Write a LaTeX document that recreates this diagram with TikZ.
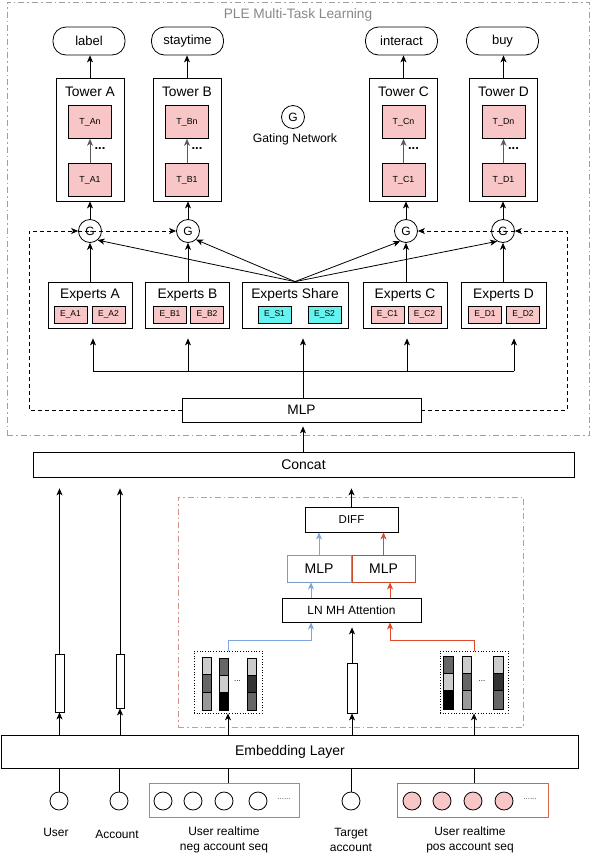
\documentclass[tikz,border=0pt]{standalone}
\usepackage{fontspec}
\setmainfont{Liberation Sans}
\usetikzlibrary{arrows.meta}
\definecolor{pinkf}{HTML}{F8C6C6}
\definecolor{cyanf}{HTML}{66F2EE}
\definecolor{blueE}{HTML}{7A9CC0}
\definecolor{redE}{HTML}{CC4A2A}
\definecolor{blueA}{HTML}{7EA6E0}
\definecolor{redA}{HTML}{E0492A}
\definecolor{redbox}{HTML}{D4948A}
\definecolor{negB}{HTML}{6F9AC0}
\definecolor{posB}{HTML}{D9664A}
\definecolor{outerG}{HTML}{A0A0A0}
\newcommand\fsz[1]{\fontsize{#1}{#1}\selectfont}
\tikzset{
  box/.style={draw, line width=0.8pt, inner sep=0pt, align=center},
  arr/.style={-{Stealth[length=7pt,width=6pt,inset=2pt]}, line width=0.8pt},
  pill/.style={draw, line width=0.8pt, rounded corners=13pt, minimum width=72, minimum height=28, inner sep=0pt, font=\fsz{13}},
  tower/.style={box, minimum width=68, minimum height=123},
  tbox/.style={box, fill=pinkf, line width=0.6pt, minimum width=43, minimum height=33, font=\fsz{8.8}},
  gc/.style={circle, draw, line width=0.8pt, minimum size=23, inner sep=0pt, font=\fsz{12}},
  expbox/.style={box, minimum width=84, minimum height=46},
  ebox/.style={box, fill=pinkf, line width=0.6pt, minimum width=33, minimum height=17, font=\fsz{8.5}},
  sbox/.style={ebox, fill=cyanf},
  ttl/.style={font=\fsz{13.8}, inner sep=0pt},
  dsh/.style={dash pattern=on 4pt off 3pt},
  bar/.style={box},
  inc/.style={circle, draw, line width=0.8pt, minimum size=18, inner sep=0pt},
  lbl/.style={font=\fontsize{12}{15}\selectfont, align=center, inner sep=0pt},
}
\begin{document}
\begin{tikzpicture}[x=1pt,y=-1pt]
\useasboundingbox (0,0) rectangle (590,860);

% outer PLE box
\node[draw=outerG, dash pattern=on 6pt off 3pt on 1.5pt off 3pt, line width=0.7pt, minimum width=582, minimum height=433, inner sep=0pt] (ple) at (298,218.5) {};
\node[font=\fsz{13.7}, text=outerG!85!black, inner sep=0pt] (pletitle) at (298,15) {PLE Multi-Task Learning};

% output pills
\node[pill] (lA) at (89,41) {label};
\node[pill] (lB) at (187.5,41) {staytime};
\node[pill] (lC) at (401.5,41) {interact};
\node[pill] (lD) at (502.5,41) {buy};

% towers
\foreach \n/\x in {A/90, B/187, C/403.5, D/503.5}{
  \node[tower] (T\n) at (\x,139.5) {};
  \node[ttl] (T\n title) at (\x,92) {Tower \n};
  \node[tbox] (T\n n) at (\x,122) {T\_\n n};
  \node[tbox] (T\n 1) at (\x,180) {T\_\n 1};
  \draw[arr, gray!70!black] (T\n 1.north) -- (T\n n.south);
  \node[font=\bfseries\fsz{13}, inner sep=0pt] (T\n dots) at (\x+10,149) {...};
}
\draw[arr] (TA.north) -- (TA.north |- lA.south);
\draw[arr] (TB.north) -- (TB.north |- lB.south);
\draw[arr] (TC.north) -- (TC.north |- lC.south);
\draw[arr] (TD.north) -- (TD.north |- lD.south);

% gating legend
\node[gc] (Gleg) at (293,117) {G};
\node[font=\fsz{12.2}, inner sep=0pt] (Glegtxt) at (295,139) {Gating Network};

% gates
\node[gc] (GA) at (90,231) {G};
\node[gc] (GB) at (188,231) {G};
\node[gc] (GC) at (406,231) {G};
\node[gc] (GD) at (503,231) {G};
\draw[arr] (GA.north) -- (GA.north |- TA.south);
\draw[arr] (GB.north) -- (GB.north |- TB.south);
\draw[arr] (GC.north) -- (GC.north |- TC.south);
\draw[arr] (GD.north) -- (GD.north |- TD.south);

% experts
\node[expbox] (EA) at (90,305) {};
\node[ttl] (EAt) at (90,295) {Experts A};
\node[ebox] (EA1) at (70.5,314.5) {E\_A1};
\node[ebox] (EA2) at (108.5,314.5) {E\_A2};
\node[expbox] (EB) at (187.5,305) {};
\node[ttl] (EBt) at (187.5,295) {Experts B};
\node[ebox] (EB1) at (170,314.5) {E\_B1};
\node[ebox] (EB2) at (207,314.5) {E\_B2};
\node[expbox, minimum width=106] (ES) at (295,305) {};
\node[ttl] (ESt) at (295,295) {Experts Share};
\node[sbox] (ES1) at (274.5,314.5) {E\_S1};
\node[sbox] (ES2) at (324.5,314.5) {E\_S2};
\node[expbox] (EC) at (405,305) {};
\node[ttl] (ECt) at (405,295) {Experts C};
\node[ebox] (EC1) at (387.5,314.5) {E\_C1};
\node[ebox] (EC2) at (424.5,314.5) {E\_C2};
\node[expbox, minimum width=85] (ED) at (503.5,305) {};
\node[ttl] (EDt) at (503.5,295) {Experts D};
\node[ebox] (ED1) at (485,314.5) {E\_D1};
\node[ebox] (ED2) at (523,314.5) {E\_D2};

\draw[arr] (GA.south |- EA.north) -- (GA.south);
\draw[arr] (GB.south |- EB.north) -- (GB.south);
\draw[arr] (GC.south |- EC.north) -- (GC.south);
\draw[arr] (GD.south |- ED.north) -- (GD.south);
\draw[arr] (ES.north) -- (GA.-50);
\draw[arr] (ES.north) -- (GB.-47);
\draw[arr] (ES.north) -- (GC.-120);
\draw[arr] (ES.north) -- (GD.-120);

% MLP top
\node[box, minimum width=239, minimum height=24, font=\fsz{13.7}] (MLPt) at (301.5,410) {MLP};
\coordinate (fA) at (93,371);
\coordinate (fB) at (188,371);
\coordinate (fC) at (407,371);
\coordinate (fD) at (514,371);
\coordinate (fS) at (303,398);
\draw[line width=0.8pt] (fA) -- (fD);
\draw[arr, shorten >=10pt] (fA) -- (fA |- EA.south);
\draw[arr, shorten >=10pt] (fB) -- (fB |- EB.south);
\draw[arr, shorten >=10pt] (fC) -- (fC |- EC.south);
\draw[arr, shorten >=10pt] (fD) -- (fD |- ED.south);
\draw[arr, shorten >=10pt] (fS) -- (fS |- ES.south);

% dashed gating inputs
\coordinate (dl) at (29,231);
\coordinate (dr) at (567,231);
\draw[arr, dsh] (MLPt.west) -| (dl) -- (GA.west);
\draw[arr, dsh] (GA.west) -- (GB.west);
\draw[arr, dsh] (MLPt.east) -| (dr) -- (GD.east);
\draw[arr, dsh] (GD.east) -- (GC.east);

% concat
\node[box, minimum width=541, minimum height=25, font=\fsz{14}] (concat) at (303.5,464.5) {Concat};
\draw[arr, shorten >=4pt] (fS |- concat.north) -- (fS |- MLPt.south);

% attention block
\node[draw=redbox, dash pattern=on 6pt off 3pt on 1.5pt off 3pt, line width=0.8pt, minimum width=345, minimum height=230, inner sep=0pt] (attbox) at (350.5,612) {};
\node[box, minimum width=93, minimum height=25, font=\fsz{11.5}] (diff) at (351.5,519.5) {DIFF};
\node[box, draw=blueE, minimum width=64, minimum height=27, font=\fsz{14}] (mlpb) at (319,568.5) {MLP};
\node[box, draw=redE, minimum width=63, minimum height=27, font=\fsz{14}] (mlpr) at (383.5,568.5) {MLP};
\node[box, minimum width=139, minimum height=24, font=\fsz{12}] (ln) at (351.5,610) {LN MH Attention};
\draw[arr, blueA] (mlpb.north) -- (mlpb.north |- diff.south);
\draw[arr, redA] (mlpr.north) -- (mlpr.north |- diff.south);
\coordinate (bx) at (311,640);
\coordinate (rx) at (390,640);
\draw[arr, blueA] (bx |- ln.north) -- (bx |- mlpb.south);
\draw[arr, redA] (rx |- ln.north) -- (rx |- mlpr.south);

% seq boxes
\node[draw, dotted, line width=0.7pt, minimum width=68, minimum height=62, inner sep=0pt] (negbox) at (228,682) {};
\node[draw, dotted, line width=0.7pt, minimum width=68, minimum height=62, inner sep=0pt] (posbox) at (474,682) {};
\begin{scope}[line width=0.8pt]
\draw[fill=black!20] (202,657) rectangle (211,674);
\draw[fill=black!60] (202,674) rectangle (211,692);
\draw[fill=black!40] (202,692) rectangle (211,710);
\draw[fill=black!60] (219,658) rectangle (228,675);
\draw[fill=black!20] (219,675) rectangle (228,692);
\draw[fill=black] (219,692) rectangle (228,710);
\draw[fill=black!20] (247,658) rectangle (256,675);
\draw[fill=black!80] (247,675) rectangle (256,692);
\draw[fill=black!60] (247,692) rectangle (256,710);
\draw[fill=black!60] (443,656) rectangle (453,673);
\draw[fill=black!20] (443,673) rectangle (453,690);
\draw[fill=black] (443,690) rectangle (453,709);
\draw[fill=black!20] (462,656) rectangle (471,673);
\draw[fill=black!60] (462,673) rectangle (471,690);
\draw[fill=black!40] (462,690) rectangle (471,709);
\draw[fill=black!20] (493,656) rectangle (503,673);
\draw[fill=black!80] (493,673) rectangle (503,690);
\draw[fill=black!60] (493,690) rectangle (503,709);
\end{scope}
\node[font=\fsz{8}, inner sep=0pt] (negdots) at (237.5,681) {...};
\node[font=\fsz{8}, inner sep=0pt] (posdots) at (482,681) {...};

\draw[arr, blueA] (negbox.north) |- (bx) -- (bx |- ln.south);
\draw[arr, redA] (posbox.north) |- (rx) -- (rx |- ln.south);

% bars
\node[bar, minimum width=9, minimum height=58] (ubar) at (59.5,683) {};
\node[bar, minimum width=8, minimum height=54] (abar) at (120,681) {};
\node[bar, minimum width=10, minimum height=50] (tbar) at (352,688) {};
\draw[arr, shorten >=5pt] (tbar.north) -- (tbar.north |- ln.south);
\draw[arr, shorten >=11pt] (ubar.north) -- (ubar.north |- concat.south);
\draw[arr, shorten >=11pt] (abar.north) -- (abar.north |- concat.south);
\draw[arr, shorten >=11pt] (diff.north) -- (diff.north |- concat.south);

% embedding
\node[box, minimum width=577, minimum height=33, font=\fsz{14}] (emb) at (290,751.5) {Embedding Layer};
\draw[arr] (ubar |- emb.north) -- (ubar.south);
\draw[arr] (abar |- emb.north) -- (abar.south);
\draw[arr] (negbox |- emb.north) -- (negbox.south);
\draw[arr] (tbar |- emb.north) -- (tbar.south);
\draw[arr] (posbox |- emb.north) -- (posbox.south);

% inputs
\node[inc] (uc) at (59,801) {};
\node[inc] (ac) at (119,801) {};
\node[inc] (tc) at (351,801) {};
\node[draw=negB, line width=0.9pt, minimum width=150, minimum height=34, inner sep=0pt] (negseq) at (224,800) {};
\node[draw=posB, line width=0.9pt, minimum width=151, minimum height=34, inner sep=0pt] (posseq) at (472.5,800) {};
\foreach \x [count=\i] in {163,193,224,258}{
  \node[inc] (nc\i) at (\x,801) {};
}
\foreach \x [count=\i] in {412,442,473,504}{
  \node[inc, fill=pinkf] (pc\i) at (\x,801) {};
}
\node[font=\fsz{8}, text=black!70, inner sep=0pt] (nseqdots) at (284,799) {......};
\node[font=\fsz{8}, text=black!70, inner sep=0pt] (pseqdots) at (530,799) {......};
\draw[line width=0.8pt] (uc.north) -- (uc.north |- emb.south);
\draw[line width=0.8pt] (ac.north) -- (ac.north |- emb.south);
\draw[line width=0.8pt] (tc.north) -- (tc.north |- emb.south);
\draw[line width=0.8pt] (negbox |- negseq.north) -- (negbox |- emb.south);
\draw[line width=0.8pt] (posbox |- posseq.north) -- (posbox |- emb.south);

\node[lbl] (tu) at (56,832) {User};
\node[lbl] (ta) at (117,834) {Account};
\node[lbl] (tn) at (224,840) {User realtime\\neg account seq};
\node[lbl] (tt) at (351,840) {Target\\account};
\node[lbl] (tp) at (470,840) {User realtime\\pos account seq};
\end{tikzpicture}
\end{document}
